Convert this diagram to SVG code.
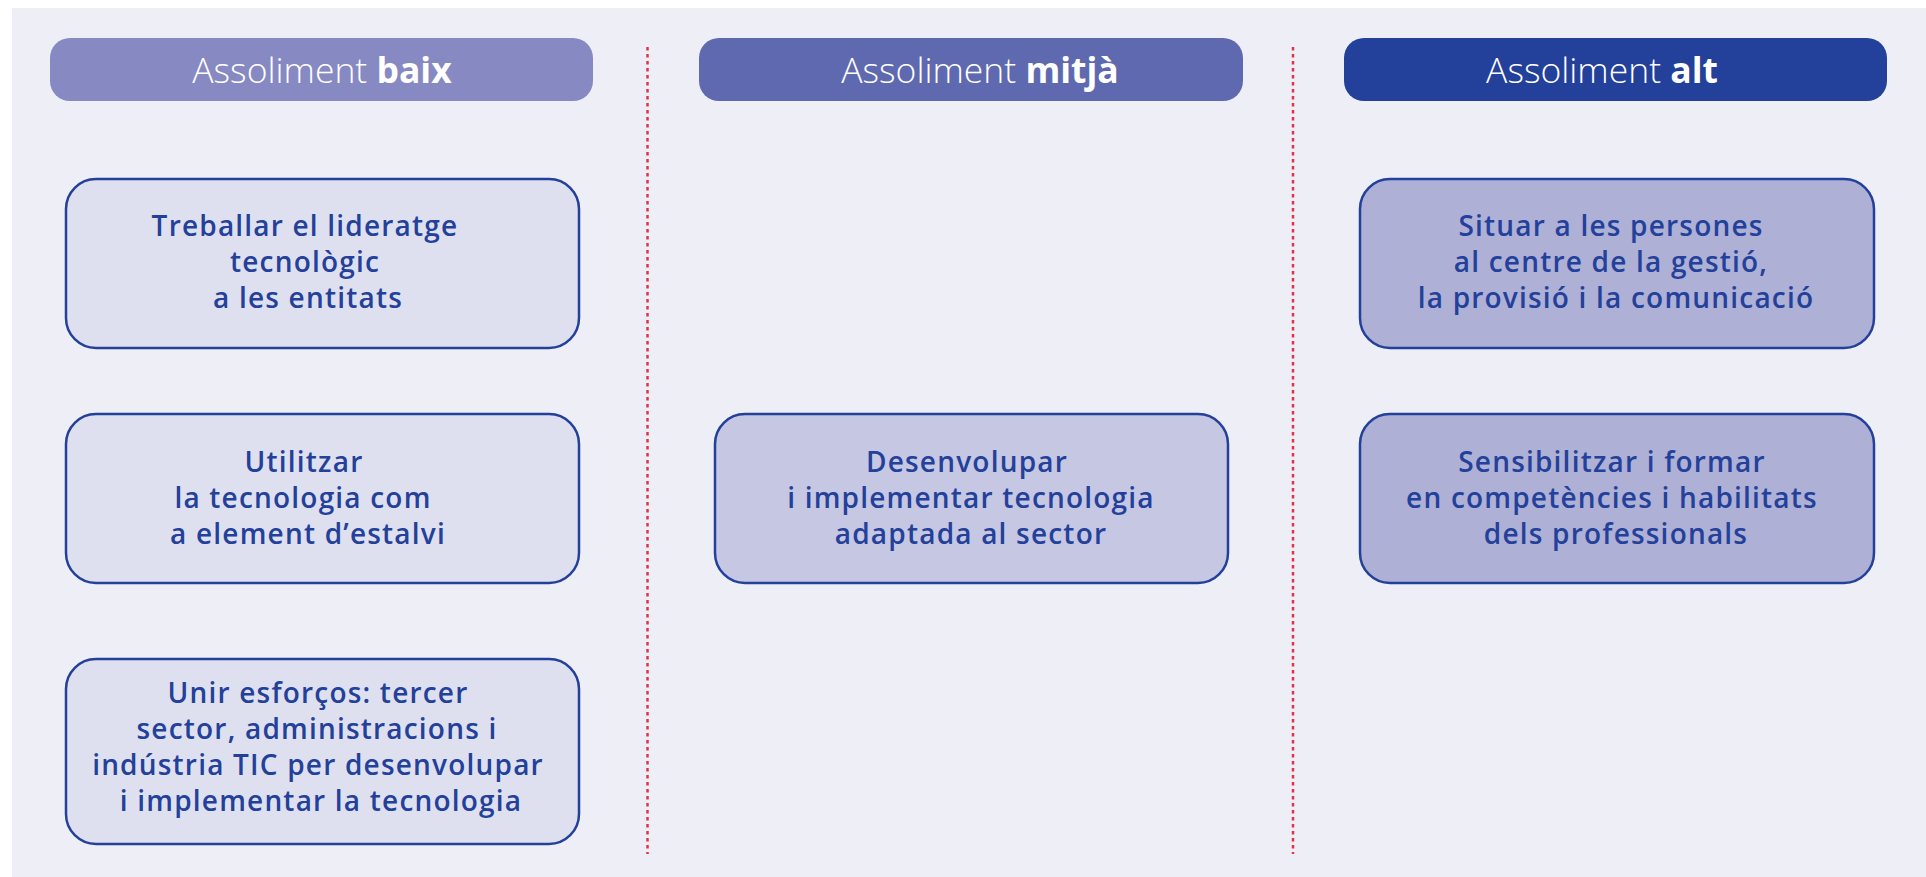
<svg xmlns="http://www.w3.org/2000/svg" width="1926" height="877" viewBox="0 0 1926 877">
  <style>
    .hdr-text { font-family: "Open Sans", "Liberation Sans", sans-serif; font-size: 35.5px; font-weight: 300; fill: #ffffff; text-anchor: middle; }
    .hdr-text .b { font-weight: 700; }
    .box { stroke: #23409A; stroke-width: 2.5; }
    .lbl { font-family: "Open Sans", "Liberation Sans", sans-serif; font-size: 28px; font-weight: 600; letter-spacing: 1.2px; fill: #23409A; text-anchor: middle; }
    .sep { stroke: #E8304A; stroke-width: 2.5; stroke-dasharray: 3.5 3.5; fill: none; }
  </style>
  <rect x="0" y="0" width="1926" height="877" fill="#ffffff"/>
  <rect x="12" y="8" width="1914" height="869" fill="#EEEEF7"/>

  <g id="separators">
    <line class="sep" x1="647.5" y1="47" x2="647.5" y2="854"/>
    <line class="sep" x1="1293" y1="47" x2="1293" y2="854"/>
  </g>

  <g id="header-baix">
    <rect x="50" y="38" width="543" height="63" rx="20" fill="#8789C2"/>
    <text class="hdr-text" x="322" y="83">Assoliment <tspan class="b">baix</tspan></text>
  </g>
  <g id="header-mitja">
    <rect x="699" y="38" width="544" height="63" rx="20" fill="#5F69B0"/>
    <text class="hdr-text" x="980" y="83">Assoliment <tspan class="b">mitjà</tspan></text>
  </g>
  <g id="header-alt">
    <rect x="1344" y="38" width="543" height="63" rx="20" fill="#23409A"/>
    <text class="hdr-text" x="1602" y="83">Assoliment <tspan class="b">alt</tspan></text>
  </g>

  <g id="node-treballar">
    <rect class="box" x="66" y="179" width="513" height="169" rx="30" fill="#DFE0EF"/>
    <text class="lbl" x="305" y="236">Treballar el lideratge</text>
    <text class="lbl" x="305" y="272">tecnològic</text>
    <text class="lbl" x="308" y="308">a les entitats</text>
  </g>
  <g id="node-utilitzar">
    <rect class="box" x="66" y="414" width="513" height="169" rx="30" fill="#DFE0EF"/>
    <text class="lbl" x="304" y="472">Utilitzar</text>
    <text class="lbl" x="303" y="508">la tecnologia com</text>
    <text class="lbl" x="308" y="544">a element d’estalvi</text>
  </g>
  <g id="node-unir">
    <rect class="box" x="66" y="659" width="513" height="185" rx="30" fill="#DFE0EF"/>
    <text class="lbl" x="318" y="703">Unir esforços: tercer</text>
    <text class="lbl" x="317" y="739">sector, administracions i</text>
    <text class="lbl" x="318" y="775">indústria TIC per desenvolupar</text>
    <text class="lbl" x="321" y="811">i implementar la tecnologia</text>
  </g>
  <g id="node-desenvolupar">
    <rect class="box" x="715" y="414" width="513" height="169" rx="30" fill="#C6C7E3"/>
    <text class="lbl" x="967" y="472">Desenvolupar</text>
    <text class="lbl" x="971" y="508">i implementar tecnologia</text>
    <text class="lbl" x="971" y="544">adaptada al sector</text>
  </g>
  <g id="node-situar">
    <rect class="box" x="1360" y="179" width="514" height="169" rx="30" fill="#AEB0D6"/>
    <text class="lbl" x="1611" y="236">Situar a les persones</text>
    <text class="lbl" x="1611" y="272">al centre de la gestió,</text>
    <text class="lbl" x="1616" y="308">la provisió i la comunicació</text>
  </g>
  <g id="node-sensibilitzar">
    <rect class="box" x="1360" y="414" width="514" height="169" rx="30" fill="#AEB0D6"/>
    <text class="lbl" x="1612" y="472">Sensibilitzar i formar</text>
    <text class="lbl" x="1612" y="508">en competències i habilitats</text>
    <text class="lbl" x="1616" y="544">dels professionals</text>
  </g>
</svg>
